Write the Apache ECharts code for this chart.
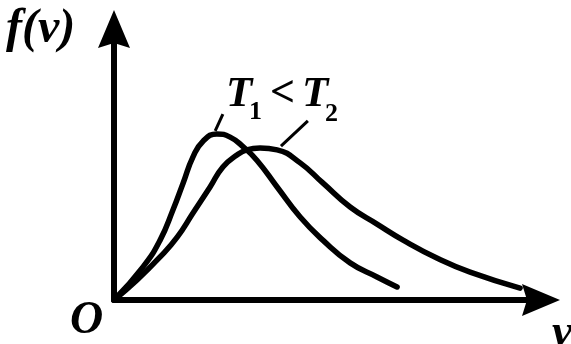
<!DOCTYPE html>
<html>
<head>
<meta charset="utf-8">
<style>
  html, body { margin: 0; padding: 0; background: #fff; }
  #chart { width: 571px; height: 344px; }
</style>
<script src="https://cdn.jsdelivr.net/npm/echarts@6/dist/echarts.min.js"></script>
</head>
<body>
<div id="chart"></div>
<script>
// Maxwell speed distribution sketch: f(v) for two temperatures, T1 < T2.
// Speeds v in arbitrary units (0..10), f(v) in arbitrary units (0..1).
const speedsT1 = [0, 0.68, 1.08, 1.38, 1.62, 1.85, 2.08, 2.41, 2.72, 3.02, 3.35, 3.82, 4.36, 4.89, 5.53, 6.16, 6.63];
const valuesT1 = [0, 0.122, 0.221, 0.332, 0.432, 0.528, 0.585, 0.613, 0.601, 0.566, 0.515, 0.417, 0.306, 0.221, 0.137, 0.085, 0.048];

const speedsT2 = [0, 0.54, 1.08, 1.48, 1.85, 2.25, 2.55, 2.88, 3.11, 3.42, 3.82, 4.36, 4.89, 5.53, 6.16, 6.77, 7.56, 8.34, 9.51];
const valuesT2 = [0, 0.074, 0.159, 0.232, 0.321, 0.417, 0.491, 0.535, 0.554, 0.561, 0.554, 0.506, 0.432, 0.343, 0.280, 0.221, 0.155, 0.103, 0.044];

// Leader lines from each curve up to its label
const leaderT1 = [[2.37, 0.624], [2.55, 0.686]];
const leaderT2 = [[3.91, 0.568], [4.54, 0.661]];

const axisMax = { v: 10, f: 1 };

const pairs = (xs, ys) => xs.map((x, i) => [x, ys[i]]);

const serif = '"Liberation Serif", "DejaVu Serif", serif';
const arrowPath = 'path://M16,0 L32,38 L16,33 L0,38 Z';

const axisCommon = {
  type: 'value',
  min: 0,
  axisLine: {
    show: true,
    onZero: false,
    symbol: ['none', arrowPath],
    symbolSize: [32, 38],
    lineStyle: { color: '#000', width: 6 }
  },
  axisTick: { show: false },
  axisLabel: { show: false },
  splitLine: { show: false }
};

function leader(coords) {
  return {
    silent: true,
    symbol: ['none', 'none'],
    label: { show: false },
    lineStyle: { color: '#000', width: 3, type: 'solid' },
    emphasis: { disabled: true },
    data: [[{ coord: coords[0] }, { coord: coords[1] }]]
  };
}

function txt(text, x, y, font) {
  return {
    type: 'text',
    x: x, y: y,
    style: { text: text, font: font, fill: '#000', verticalAlign: 'middle' }
  };
}

const bi = size => 'italic bold ' + size + 'px ' + serif;
const b = size => 'bold ' + size + 'px ' + serif;

function curve(name, xs, ys, lead) {
  return {
    name: name,
    type: 'line',
    smooth: 0.5,
    symbol: 'none',
    lineStyle: { color: '#000', width: 5.5, cap: 'round', join: 'round' },
    data: pairs(xs, ys),
    markLine: leader(lead)
  };
}

const chart = echarts.init(document.getElementById('chart'), null, { renderer: 'canvas' });
chart.setOption({
  animation: false,
  backgroundColor: '#fff',
  grid: { left: 114, right: 30, top: 29, bottom: 44 },
  xAxis: Object.assign({}, axisCommon, { max: axisMax.v }),
  yAxis: Object.assign({}, axisCommon, { max: axisMax.f }),
  series: [
    curve('T1', speedsT1, valuesT1, leaderT1),
    curve('T2', speedsT2, valuesT2, leaderT2)
  ],
  graphic: [
    txt('f(v)', 6, 30, bi(48)),
    txt('O', 70, 321, bi(46)),
    txt('v', 552, 334, bi(46)),
    txt('T', 226, 95, bi(43)),
    txt('1', 249, 112, b(26)),
    txt('<', 270, 95, b(44)),
    txt('T', 302, 95, bi(43)),
    txt('2', 325, 114, b(26))
  ]
});
</script>
</body>
</html>
